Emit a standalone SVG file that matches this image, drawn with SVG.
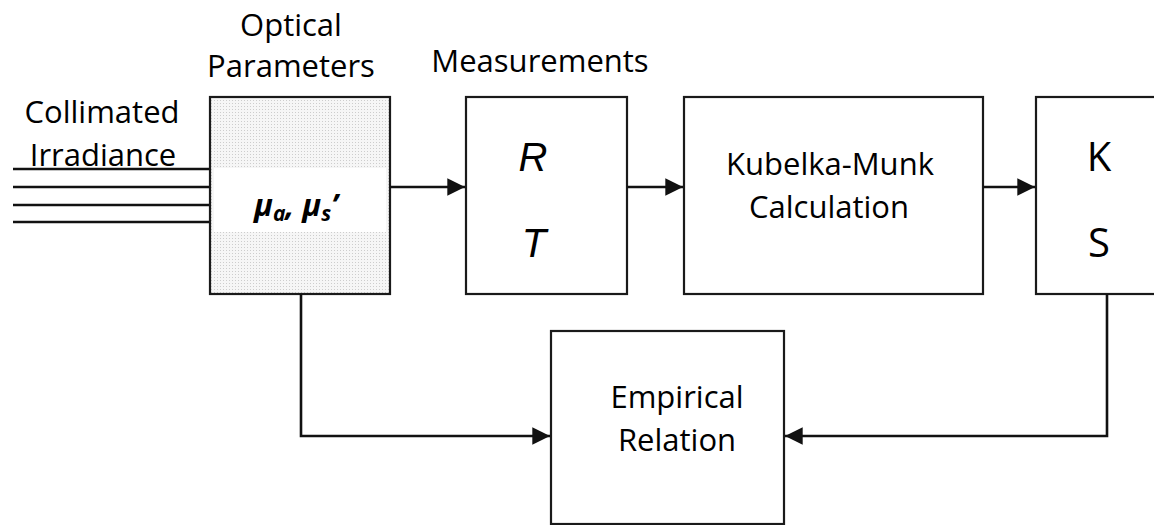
<svg xmlns="http://www.w3.org/2000/svg" width="1154" height="525" viewBox="0 0 1154 525">
  <style>
    .box { fill: #ffffff; stroke: #1a1a1a; stroke-width: 2.2; }
    .lbl { font-family: "Open Sans", "Liberation Sans", sans-serif; font-size: 31px; fill: #000; text-anchor: middle; }
    .big { font-family: "Open Sans", "Liberation Sans", sans-serif; font-size: 40px; fill: #000; text-anchor: middle; }
    .ital { font-family: "Liberation Sans", Arial, sans-serif; font-style: italic; font-size: 40px; fill: #000; text-anchor: middle; }
    .sym { font-family: "Open Sans", "Liberation Sans", sans-serif; font-style: italic; font-weight: bold; font-size: 31px; fill: #000; }
    .wire { fill: none; stroke: #111; stroke-width: 2.6; }
    .beam { fill: none; stroke: #111; stroke-width: 2.4; }
  </style>
  <defs>
    <!-- fine dot screen for the sample block -->
    <pattern id="dots" width="3" height="3" patternUnits="userSpaceOnUse">
      <rect width="3" height="3" fill="#f6f6f6"/>
      <rect x="1" y="1" width="1" height="1" fill="#cdcdcd"/>
    </pattern>
    <marker id="head" viewBox="0 0 10 10" refX="10" refY="5" markerWidth="6.8" markerHeight="6.8" markerUnits="strokeWidth" orient="auto">
      <path d="M0,0 L10,5 L0,10 z" fill="#111"/>
    </marker>
  </defs>
  <rect width="1154" height="525" fill="#ffffff"/>

  <!-- incoming collimated beam -->
  <g id="beam">
    <line class="beam" x1="13" y1="169" x2="210" y2="169"/>
    <line class="beam" x1="13" y1="187" x2="210" y2="187"/>
    <line class="beam" x1="13" y1="205" x2="210" y2="205"/>
    <line class="beam" x1="13" y1="222" x2="210" y2="222"/>
    <text class="lbl" x="102" y="123">Collimated</text>
    <text class="lbl" x="103" y="166">Irradiance</text>
  </g>

  <g id="optical">
    <rect x="210" y="97" width="180" height="197" fill="url(#dots)" stroke="#1a1a1a" stroke-width="2.2"/>
    <rect x="214" y="168" width="172" height="64" fill="#ffffff"/>
    <text class="lbl" x="291" y="36">Optical</text>
    <text class="lbl" x="291" y="77">Parameters</text>
    <text class="sym" x="254" y="216">μ<tspan font-size="21" dy="5">a</tspan><tspan dy="-5">, μ</tspan><tspan font-size="21" dy="5">s</tspan><tspan dy="-5">’</tspan></text>
  </g>

  <g id="measurements">
    <rect class="box" x="466" y="97" width="161" height="197"/>
    <text class="lbl" x="540" y="72">Measurements</text>
    <text class="ital" x="533" y="171">R</text>
    <text class="ital" x="534" y="257">T</text>
  </g>

  <g id="kubelka">
    <rect class="box" x="684" y="97" width="299" height="197"/>
    <text class="lbl" x="830" y="175">Kubelka-Munk</text>
    <text class="lbl" x="829" y="218">Calculation</text>
  </g>

  <g id="ks">
    <rect class="box" x="1036" y="97" width="130" height="197"/>
    <text class="big" x="1099" y="171">K</text>
    <text class="big" x="1099" y="257">S</text>
  </g>

  <g id="empirical">
    <rect class="box" x="551" y="331" width="233" height="193"/>
    <text class="lbl" x="677" y="408">Empirical</text>
    <text class="lbl" x="677" y="451">Relation</text>
  </g>

  <g id="connectors">
    <line class="wire" x1="390" y1="187" x2="465" y2="187" marker-end="url(#head)"/>
    <line class="wire" x1="627" y1="187" x2="683" y2="187" marker-end="url(#head)"/>
    <line class="wire" x1="983" y1="187" x2="1035" y2="187" marker-end="url(#head)"/>
    <polyline class="wire" points="301,294 301,436 550,436" marker-end="url(#head)"/>
    <polyline class="wire" points="1107,294 1107,436 785,436" marker-end="url(#head)"/>
  </g>
</svg>
